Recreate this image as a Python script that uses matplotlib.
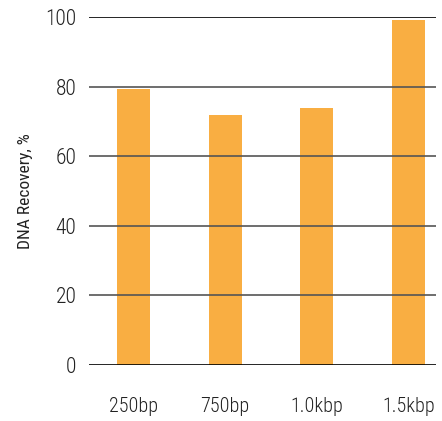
import matplotlib
matplotlib.use("Agg")
import matplotlib.pyplot as plt

categories = ["250bp", "750bp", "1.0kbp", "1.5kbp"]
values = [79.3, 71.8, 73.9, 99.1]
yticks = [0, 20, 40, 60, 80, 100]

plt.rcParams['font.family'] = ['Roboto Condensed', 'DejaVu Sans']
plt.rcParams['font.weight'] = 'light'

fig = plt.figure(figsize=(4.42, 4.21), dpi=100)
ax = fig.add_axes([89/442, 56/421, 347/442, 348/421])
x = list(range(len(categories)))
ax.bar(x, values, width=0.36, color="#F9AE42", zorder=1)
for t in yticks:
    c = "#000000" if t in (0, 100) else "#555555"
    ax.axhline(t, color=c, lw=1.2, zorder=2)
ax.set_xlim(-0.485, 3.3)
ax.set_ylim(0, 100)
ax.set_yticks(yticks)
ax.set_yticklabels([str(t) for t in yticks], fontsize=15.5, color="#222222")
ax.set_xticks(x)
ax.set_xticklabels(categories, fontsize=14.5, color="#222222")
ax.tick_params(axis='y', length=0, pad=9)
ax.tick_params(axis='x', length=0, pad=23)
for s in ax.spines.values():
    s.set_visible(False)
ax.set_ylabel("DNA Recovery, %", fontsize=12.5, labelpad=9, color="#222222")
fig.savefig("out.png", dpi=100)
